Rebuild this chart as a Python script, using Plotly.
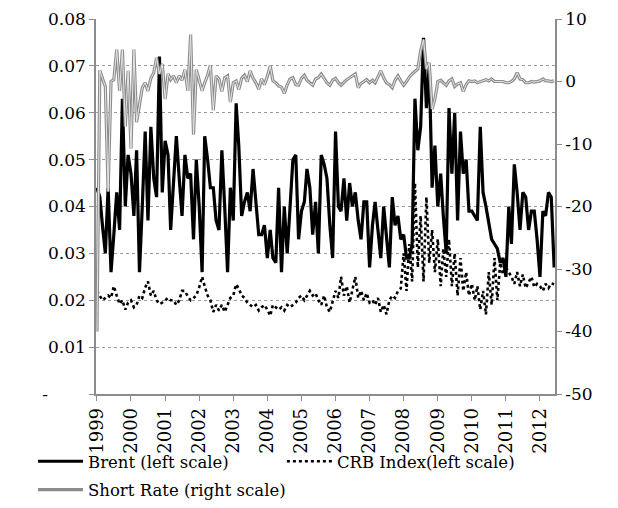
import pandas as pd
import plotly.graph_objects as go

# Monthly observations, Jan 1999 .. Jun 2012
months = pd.date_range("1999-01-01", periods=162, freq="MS")

year_ticks = ["1999-01-01", "2000-01-01", "2001-01-01", "2002-01-01", "2003-01-01",
              "2004-01-01", "2005-01-01", "2006-01-01", "2007-01-01", "2008-01-01",
              "2009-01-01", "2010-01-01", "2011-01-01", "2012-01-01"]
year_labels = ["1999", "2000", "2001", "2002", "2003", "2004", "2005", "2006",
               "2007", "2008", "2009", "2010", "2011", "2012"]

left_ticks = [0, 0.01, 0.02, 0.03, 0.04, 0.05, 0.06, 0.07, 0.08]
left_labels = ["-" + "\u00a0" * 7, "0.01", "0.02", "0.03", "0.04", "0.05", "0.06", "0.07", "0.08"]

right_ticks = [-50, -40, -30, -20, -10, 0, 10]
right_labels = ["-50", "-40", "-30", "-20", "-10", "0", "10"]

brent = [
    0.044, 0.042, 0.036, 0.030, 0.044, 0.026, 0.034, 0.043, 0.035, 0.063,
    0.040, 0.051, 0.047, 0.038, 0.052, 0.026, 0.040, 0.056, 0.037, 0.057,
    0.046, 0.042, 0.072, 0.043, 0.054, 0.051, 0.035, 0.045, 0.055, 0.046,
    0.038, 0.051, 0.046, 0.047, 0.033, 0.050, 0.040, 0.026, 0.055, 0.050,
    0.044, 0.044, 0.037, 0.035, 0.052, 0.040, 0.026, 0.044, 0.037, 0.062,
    0.053, 0.038, 0.041, 0.043, 0.039, 0.048, 0.041, 0.034, 0.034, 0.036,
    0.029, 0.035, 0.029, 0.028, 0.044, 0.026, 0.040, 0.030, 0.040, 0.050,
    0.051, 0.033, 0.039, 0.041, 0.048, 0.044, 0.034, 0.041, 0.030, 0.051,
    0.049, 0.046, 0.036, 0.029, 0.056, 0.040, 0.039, 0.046, 0.037, 0.045,
    0.040, 0.043, 0.037, 0.033, 0.041, 0.041, 0.027, 0.036, 0.041, 0.035,
    0.029, 0.040, 0.034, 0.027, 0.042, 0.036, 0.038, 0.033, 0.034, 0.029,
    0.029, 0.032, 0.063, 0.052, 0.057, 0.076, 0.061, 0.070, 0.044, 0.053,
    0.040, 0.047, 0.038, 0.030, 0.061, 0.047, 0.060, 0.037, 0.056, 0.047,
    0.050, 0.039, 0.039, 0.038, 0.037, 0.057, 0.043, 0.040, 0.036, 0.033,
    0.032, 0.031, 0.028, 0.029, 0.025, 0.040, 0.032, 0.049, 0.043, 0.035,
    0.043, 0.042, 0.035, 0.039, 0.039, 0.033, 0.025, 0.039, 0.038, 0.043,
    0.042, 0.027,
]

crb = [
    0.022, 0.021, 0.020, 0.0205, 0.021, 0.0205, 0.023, 0.021, 0.0192, 0.020,
    0.018, 0.0195, 0.020, 0.0185, 0.019, 0.021, 0.0205, 0.0227, 0.024, 0.021,
    0.022, 0.020, 0.0192, 0.0195, 0.020, 0.0205, 0.020, 0.020, 0.019, 0.020,
    0.022, 0.022, 0.0208, 0.020, 0.0205, 0.021, 0.0228, 0.025, 0.023, 0.021,
    0.020, 0.0175, 0.019, 0.0178, 0.019, 0.0175, 0.019, 0.0205, 0.021, 0.0234,
    0.0225, 0.021, 0.0205, 0.0195, 0.019, 0.0185, 0.019, 0.0178, 0.0185, 0.019,
    0.018, 0.0167, 0.019, 0.0185, 0.018, 0.0185, 0.0178, 0.019, 0.0185, 0.019,
    0.0195, 0.0205, 0.021, 0.020, 0.021, 0.022, 0.021, 0.0215, 0.020, 0.019,
    0.021, 0.0185, 0.0175, 0.020, 0.022, 0.0205, 0.025, 0.021, 0.023, 0.0195,
    0.022, 0.025, 0.0205, 0.022, 0.020, 0.0215, 0.0195, 0.020, 0.019, 0.0205,
    0.0175, 0.019, 0.017, 0.020, 0.021, 0.0205, 0.022, 0.0225, 0.030, 0.022,
    0.032, 0.024, 0.045, 0.027, 0.038, 0.024, 0.042, 0.028, 0.035, 0.026,
    0.033, 0.023, 0.031, 0.025, 0.033, 0.023, 0.030, 0.021, 0.029, 0.022,
    0.026, 0.021, 0.0235, 0.020, 0.023, 0.018, 0.022, 0.017, 0.026, 0.019,
    0.029, 0.020, 0.028, 0.0255, 0.027, 0.026, 0.025, 0.0235, 0.026, 0.023,
    0.0255, 0.0226, 0.024, 0.025, 0.0228, 0.0235, 0.023, 0.022, 0.0235, 0.0226,
    0.0236, 0.0234,
]

short_rate = [
    -40.0, 1.8, 0.5, -0.8, -17.6, 0.0, 0.3, 5.1, -1.5, 5.1,
    -7.2, 1.7, -10.7, 5.1, -6.5, -3.3, -1.0, -0.2, -1.5, 0.5,
    1.4, 3.8, 1.2, 2.8, -2.8, 1.2, 0.3, 0.9, -0.2, 0.9,
    0.2, 1.9, -1.5, 7.5, -8.5, 1.9, 0.3, -1.5, -0.2, 1.0,
    2.6, -4.6, 0.9, 0.4, -1.6, 0.6, 0.9, -3.3, -0.2, 0.1,
    -1.3, 0.5, 1.0, 0.0, 1.7, 0.5, -0.2, -1.2, 0.4, -0.5,
    0.8, 2.5, 0.1, -0.2, -0.7, -0.9, -1.9, -0.5, 0.4, 0.6,
    -0.5, -0.6, 0.5, 1.0, 0.2, -0.3, -0.6, 0.4, 0.6, 1.2,
    0.4, -0.2, -0.6, 0.2, 0.5, -0.2, -0.6, -0.1, 0.3, 0.6,
    0.9, 1.2, -1.0, -0.3, 0.0, 0.3, -0.2, 0.2, -0.2, 0.8,
    1.7, 0.6, -0.2, -0.5, -1.0, 0.2, 0.9, 0.1, -0.6, 0.0,
    0.7, 1.2, 1.6, 2.0, 4.9, 6.7, 2.0, 3.0, -4.4, -2.8,
    0.0, 0.2, -0.2, -0.6, 0.1, 0.4, -0.8, -0.4, -0.2, -1.6,
    -0.5, 0.1, 0.0, 0.1, -0.2, 0.0, 0.2, 0.3, 0.1, 0.4,
    0.0, 0.0, 0.1, 0.0, -0.2, -0.2, 0.0, 0.4, 1.4, 0.4,
    0.3, -0.2, -0.2, 0.0, -0.1, 0.0, 0.1, 0.4, 0.1, 0.1,
    0.0, 0.1,
]

FONT = "DejaVu Serif"
AXIS_GRAY = "#8c8c8c"

fig = go.Figure()

fig.add_trace(go.Scatter(
    x=months, y=brent, mode="lines",
    name="Brent (left scale)", legend="legend", legendgroup="a",
    line=dict(color="black", width=3.2),
))
fig.add_trace(go.Scatter(
    x=months, y=crb, mode="lines",
    name="CRB Index(left scale)", legend="legend2",
    line=dict(color="black", width=2.6, dash="dot"),
))
fig.add_trace(go.Scatter(
    x=months, y=short_rate, yaxis="y2", mode="lines",
    name="Short Rate (right scale)", legend="legend", legendgroup="b",
    line=dict(color="#8c8c8c", width=3.2),
))
fig.add_trace(go.Scatter(
    x=months, y=short_rate, yaxis="y2", mode="lines",
    showlegend=False, hoverinfo="skip",
    line=dict(color="#e6e6e6", width=1.0),
))

legend_font = dict(family=FONT, size=16.5, color="black")

# the page body adds an 8px offset, so the figure is 8px smaller than the window
fig.update_layout(
    width=610, height=500,
    margin=dict(l=88, r=63, t=11, b=114, autoexpand=False),
    paper_bgcolor="white", plot_bgcolor="white",
    font=dict(family=FONT, size=17, color="black"),
    showlegend=True,
    legend=dict(
        orientation="v",
        xref="container", x=0.041, xanchor="left",
        yref="container", y=0.128, yanchor="top",
        font=legend_font, itemwidth=45, tracegroupgap=4,
        bgcolor="rgba(0,0,0,0)",
    ),
    legend2=dict(
        orientation="v",
        xref="container", x=0.449, xanchor="left",
        yref="container", y=0.128, yanchor="top",
        font=legend_font, itemwidth=45,
        bgcolor="rgba(0,0,0,0)",
    ),
    xaxis=dict(
        type="date",
        range=["1998-12-22", "2012-06-10"],
        tickvals=year_ticks, ticktext=year_labels,
        tickangle=-90,
        ticks="outside", ticklen=5, tickcolor=AXIS_GRAY,
        showline=True, linecolor=AXIS_GRAY, linewidth=1.5,
        showgrid=False, zeroline=False, automargin=False,
        ticklabeloverflow="allow",
        tickfont=dict(family=FONT, size=18),
    ),
    yaxis=dict(
        range=[0, 0.08],
        tickvals=left_ticks, ticktext=left_labels,
        ticks="outside", ticklen=5, tickcolor=AXIS_GRAY,
        showline=True, linecolor=AXIS_GRAY, linewidth=1.5,
        showgrid=True, gridcolor="#9a9a9a", griddash="dot", gridwidth=1,
        zeroline=False, automargin=False,
        ticklabeloverflow="allow",
        tickfont=dict(family=FONT, size=17),
    ),
    yaxis2=dict(
        range=[-50, 10], overlaying="y", side="right",
        tickvals=right_ticks, ticktext=right_labels,
        ticks="outside", ticklen=5, tickcolor=AXIS_GRAY,
        showline=True, linecolor=AXIS_GRAY, linewidth=1.5,
        showgrid=False, zeroline=False, automargin=False,
        ticklabeloverflow="allow",
        tickfont=dict(family=FONT, size=17),
    ),
)

fig.write_html("out.html")
